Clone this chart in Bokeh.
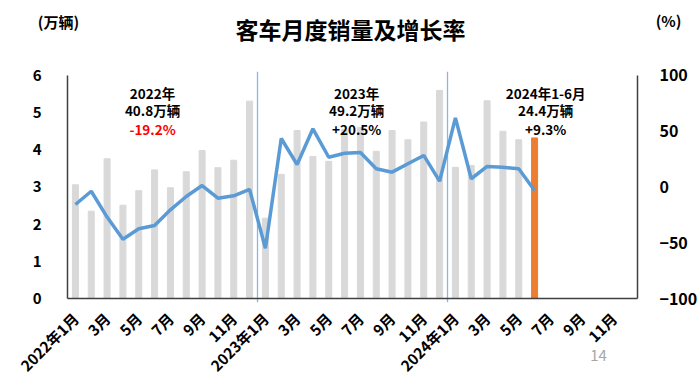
from bokeh.plotting import figure
from bokeh.models import Range1d, LinearAxis, FixedTicker, Label, ColumnDataSource
from bokeh.embed import file_html
from bokeh.resources import INLINE
import math

# ---- data ----
months = ["2022年1月", "2月", "3月", "4月", "5月", "6月", "7月", "8月", "9月", "10月", "11月", "12月",
          "2023年1月", "2月", "3月", "4月", "5月", "6月", "7月", "8月", "9月", "10月", "11月", "12月",
          "2024年1月", "2月", "3月", "4月", "5月", "6月", "7月", "8月", "9月", "10月", "11月", "12月"]
sales = [3.06, 2.35, 3.76, 2.51, 2.90, 3.46, 2.98, 3.41, 3.98, 3.52, 3.72, 5.31,
         2.16, 3.34, 4.52, 3.82, 3.69, 4.55, 4.60, 3.96, 4.52, 4.27, 4.75, 5.60,
         3.53, 3.58, 5.32, 4.50, 4.27, 4.32]
growth = [-15.7, -3.8, -27.0, -46.8, -37.5, -34.5, -20.5, -8.5, 1.3, -10.0, -7.9, -2.2,
          -55.0, 43.5, 20.2, 52.2, 26.7, 30.3, 30.9, 16.3, 13.3, 20.8, 28.3, 5.2,
          62.0, 7.4, 18.4, 17.8, 16.3, -3.1]
left_ticks = [0, 1, 2, 3, 4, 5, 6]
right_ticks = [-100, -50, 0, 50, 100]
year_notes = [("2022年", "40.8万辆", "-19.2%"), ("2023年", "49.2万辆", "+20.5%"), ("2024年1-6月", "24.4万辆", "+9.3%")]
note_colors = ["#FF0000", "#000000", "#000000"]
note_x = [4.87, 17.76, 29.7]

FONT = "Noto Sans CJK SC"

# frame spans the whole canvas; plotting region is x in [-0.5, 35.5], y in [0, 6]
X0, X1 = -4.732, 39.479
Y0, Y1 = -2.368, 8.018
P0, P1 = -178.92, 167.26

x_idx = list(range(len(sales)))
bar_colors = ["#D9D9D9"] * (len(sales) - 1) + ["#ED7D31"]

p = figure(width=700, height=386, output_backend="svg", toolbar_location=None,
           x_range=Range1d(X0, X1), y_range=Range1d(Y0, Y1),
           min_border_left=0, min_border_right=0, min_border_top=0, min_border_bottom=0)
p.outline_line_color = None
p.grid.visible = False
p.background_fill_color = "white"

p.extra_y_ranges = {"pct": Range1d(P0, P1)}

src = ColumnDataSource(dict(x=x_idx, top=sales, color=bar_colors))
p.vbar(x="x", top="top", width=0.38, color="color", source=src)

# separators between years
for sx in [11.5, 23.5]:
    p.line([sx, sx], [-0.1, 6.1], line_color="#8FB4E3", line_width=1.3)

p.line(x_idx, growth, line_color="#5B9BD5", line_width=3.5, y_range_name="pct")

ax_color = "#404040"

xa = p.xaxis[0]
xa.fixed_location = 0
xa.ticker = FixedTicker(ticks=list(range(0, 36, 2)))
xa.major_label_overrides = {i: months[i] for i in range(0, 36, 2)}
xa.major_label_orientation = math.pi / 4
xa.bounds = (-0.5, 35.5)
xa.axis_line_color = ax_color
xa.axis_line_width = 1.5
xa.major_tick_line_color = None
xa.minor_tick_line_color = None
xa.major_label_text_font = FONT
xa.major_label_text_font_style = "bold"
xa.major_label_text_font_size = "15px"
xa.major_label_text_color = "#000000"
xa.major_label_standoff = 11

ya = p.yaxis[0]
ya.fixed_location = -0.5
ya.bounds = (0, 6)
ya.ticker = FixedTicker(ticks=left_ticks)
ya.axis_line_color = ax_color
ya.axis_line_width = 1.5
ya.major_tick_line_color = None
ya.minor_tick_line_color = None
ya.major_label_text_font = FONT
ya.major_label_text_font_style = "bold"
ya.major_label_text_font_size = "15px"
ya.major_label_text_color = "#000000"
ya.major_label_standoff = 20

ra = LinearAxis(y_range_name="pct", ticker=FixedTicker(ticks=right_ticks),
                fixed_location=35.5, bounds=(-100, 100))
ra.axis_line_color = ax_color
ra.axis_line_width = 1.5
ra.major_tick_line_color = None
ra.minor_tick_line_color = None
ra.major_label_text_font = FONT
ra.major_label_text_font_style = "bold"
ra.major_label_text_font_size = "16px"
ra.major_label_text_color = "#000000"
ra.major_label_standoff = 16
p.add_layout(ra, "right")


def lab(x, y, text, size="13.5px", color="#000000", bold=True, align="center"):
    p.add_layout(Label(x=x, y=y, text=text, text_font=FONT, text_font_size=size,
                       text_color=color, text_font_style="bold" if bold else "normal",
                       text_align=align, text_baseline="middle"))


# title and unit labels
lab(17.37, 7.264, "客车月度销量及增长率", size="23px")
lab(-1.069, 7.453, "(万辆)", size="15px")
lab(37.46, 7.48, "(%)", size="15px")

# year annotations
for (l1, l2, l3), c, nx in zip(year_notes, note_colors, note_x):
    lab(nx, 5.54, l1)
    lab(nx, 5.06, l2)
    lab(nx, 4.55, l3, color=c)

# page number
lab(33.04, -1.534, "14", size="15px", color="#A6A6A6", bold=False)

open("out.html", "w").write(file_html(p, INLINE))
